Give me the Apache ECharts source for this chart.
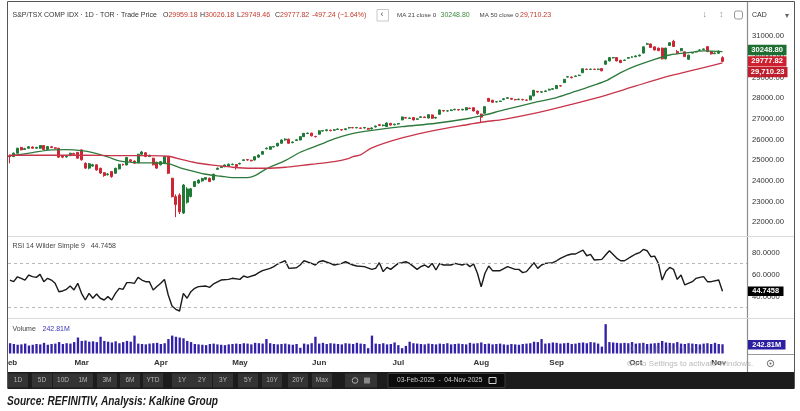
<!DOCTYPE html>
<html><head><meta charset="utf-8">
<script src="https://cdn.jsdelivr.net/npm/echarts@6/dist/echarts.min.js"></script>
<style>html,body{margin:0;padding:0;background:#fff}#c{width:800px;height:411px}</style>
</head><body><div id="c"></div>
<script>
// ---------------- DATA ----------------
const monthNames = ['Feb','Mar','Apr','May','Jun','Jul','Aug','Sep','Oct','Nov'];
const monthTradingDays = [19,21,21,21,21,22,20,21,22,2];

const opens = [25220,25180,25340,25620,25520,25580,25640,25580,25580,25710,25520,25650,25600,25580,25200,25160,25220,25330,25380,25500,24850,24620,24720,24780,24610,24400,24300,24450,24370,24580,24800,24770,25020,24960,24880,25290,25360,25180,25100,24900,24780,24860,25170,24130,23240,23320,22450,22970,23250,23730,23900,24000,24080,24130,24050,24560,24650,24690,24700,24790,24790,24820,24990,25030,25000,25010,25150,25290,25550,25530,25640,25690,25820,25980,26020,25850,25950,25980,26140,26290,26310,26150,26260,26410,26430,26450,26450,26490,26480,26480,26560,26580,26570,26560,26560,26540,26520,26610,26720,26670,26630,26780,26710,26750,26950,27060,27020,27060,26980,27070,27090,27040,27190,27040,27220,27400,27380,27400,27440,27450,27430,27430,27520,27540,27380,27230,27270,27990,27900,27820,27840,27930,27990,27990,27940,27930,27940,27910,27920,28110,28330,28290,28320,28390,28430,28460,28600,28750,29020,29020,29050,29090,29230,29400,29390,29400,29390,29430,29640,29800,29950,29960,29830,29820,29930,29970,30000,30040,30180,30600,30620,30480,30420,30420,29900,30550,30750,30250,30290,30240,29880,30180,30230,30310,30350,30490,30250,30150,30170,29959.18];
const closes = [25170,25340,25580,25500,25560,25650,25580,25620,25710,25520,25660,25610,25580,25150,25150,25190,25340,25290,25100,25020,24620,24830,24780,24530,24380,24260,24330,24210,24610,24800,24770,25130,24950,24860,25290,25400,25180,25240,24780,24620,24930,25180,24370,23240,22860,22510,23800,23610,23620,23970,24040,24120,24160,23970,24320,24610,24690,24770,24810,24810,24700,24850,25020,25010,24970,25170,25250,25420,25580,25650,25660,25820,25980,26020,25820,25880,25990,26140,26300,26310,26180,26140,26420,26430,26470,26430,26470,26510,26460,26520,26580,26570,26580,26540,26580,26500,26560,26650,26680,26700,26800,26700,26740,26770,27090,27040,27040,26950,27000,27100,27060,27200,27030,27070,27430,27380,27390,27430,27460,27430,27460,27540,27500,27380,27260,27080,27590,27850,27800,27830,27860,27970,28020,27950,27920,27950,27920,27900,28110,28380,28300,28310,28350,28430,28460,28610,28590,28910,29040,28990,29070,29110,29420,29390,29400,29390,29400,29320,29800,29960,29960,29800,29720,29840,29960,30000,30040,30080,30480,30630,30450,30330,30300,29900,30420,30680,30500,30200,30400,30010,30080,30200,30250,30330,30380,30250,30140,30180,30275.06,29777.82];
const lows = [24850,25150,25320,25480,25500,25560,25560,25560,25560,25500,25500,25590,25550,25120,25100,25120,25200,25260,25080,24980,24580,24560,24680,24500,24340,24200,24260,24150,24350,24560,24740,24750,24920,24830,24860,25260,25150,25150,24750,24580,24750,24840,24330,23200,22250,22400,22400,22900,23200,23700,23870,23960,24040,23940,24030,24540,24620,24660,24680,24760,24550,24800,24960,24980,24940,24990,25120,25270,25530,25510,25620,25670,25800,25950,25800,25820,25930,25960,26120,26270,26150,26100,26240,26390,26400,26400,26420,26460,26430,26450,26530,26540,26540,26510,26530,26470,26490,26580,26650,26640,26610,26680,26690,26720,26930,27010,27000,26920,26960,27050,27040,27020,27000,27010,27200,27350,27350,27380,27420,27400,27410,27410,27470,27360,27200,26850,27250,27820,27780,27790,27820,27900,27960,27920,27890,27900,27890,27870,27900,28090,28270,28260,28300,28370,28410,28440,28560,28730,29000,28960,29030,29070,29210,29360,29360,29360,29360,29300,29620,29780,29920,29780,29690,29800,29910,29950,29980,30020,30160,30580,30420,30300,30270,29870,29880,30530,30480,30120,30270,29990,29860,30160,30210,30290,30330,30230,30110,30130,30140,29749.46];
const highs = [25280,25380,25600,25650,25600,25680,25670,25650,25730,25730,25680,25680,25630,25600,25250,25230,25360,25360,25400,25530,24900,24870,24830,24800,24640,24420,24380,24470,24640,24830,24830,25150,25060,24990,25310,25450,25400,25270,25120,24930,24960,25200,25190,24150,23350,23400,23850,23700,23660,24000,24080,24150,24190,24160,24350,24650,24720,24800,24840,24840,24820,24880,25050,25060,25020,25200,25280,25440,25620,25680,25690,25840,26000,26060,26040,25910,26020,26160,26320,26340,26330,26180,26450,26460,26500,26480,26500,26540,26510,26550,26610,26610,26610,26580,26610,26560,26590,26680,26740,26730,26830,26810,26770,26800,27110,27080,27070,27080,27030,27130,27110,27220,27210,27100,27450,27420,27420,27460,27490,27470,27490,27560,27540,27560,27400,27250,27610,28010,27920,27860,27880,28000,28050,28010,27960,27980,27970,27940,28130,28400,28340,28340,28380,28460,28490,28630,28630,28930,29070,29050,29100,29140,29440,29430,29430,29420,29430,29450,29820,29980,29990,29980,29850,29870,29990,30030,30070,30110,30500,30680,30640,30500,30440,30440,30440,30700,30820,30330,30420,30260,30100,30230,30280,30360,30400,30510,30270,30210,30300,30026.18];

// volume, millions of shares
const volumesM = [270,250,230,240,260,210,230,250,240,280,230,250,260,300,250,270,260,300,420,
 330,340,310,320,300,440,330,310,290,320,270,300,330,310,470,
 260,250,240,260,270,280,250,270,
 380,470,440,420,400,330,300,
 250,240,230,220,250,260,240,230,220,240,250,260,
 250,270,260,240,280,270,260,380,270,
 250,240,250,260,240,230,250,150,260,240,270,440,
 260,280,250,270,260,250,240,270,260,250,280,260,250,
 140,470,260,250,270,240,250,290,
 220,140,200,310,
 270,260,250,240,260,250,240,260,250,270,240,250,260,250,240,280,260,270,290,250,260,240,250,260,240,230,250,240,230,250,260,270,
 310,300,380,
 260,270,290,280,260,270,280,250,260,280,290,270,300,290,260,180,
 770,
 300,290,280,270,280,270,300,
 260,270,280,250,260,270,280,330,290,280,270,300,260,250,270,260,250,240,260,270,250,280,
 250,242.81];

// moving averages: [trading-day index, value]
const ma21Points = [[0,25208],[6,25369],[11,25498],[15,25514],[19,25465],[22,25369],[26,25159],[29,24966],[33,24886],[38,24870],[42,24837],[45,24644],[49,24451],[52,24322],[56,24226],[59,24161],[63,24161],[65,24258],[68,24580],[73,24982],[77,25385],[82,25739],[86,26029],[90,26254],[96,26440],[104,26620],[113,26787],[122,27030],[126,27190],[131,27430],[140,27830],[145,28027],[149,28268],[153,28510],[158,28832],[162,29234],[166,29556],[171,29878],[175,30087],[180,30200],[184,30281],[189,30248.8]];
const ma50Points = [[0,25240],[11,25240],[20,25240],[28,25224],[37,25224],[42,25192],[46,25015],[50,24854],[55,24741],[59,24660],[64,24612],[68,24612],[73,24660],[77,24741],[81,24822],[86,24934],[90,25095],[91,25175],[93,25256],[96,25600],[104,26080],[113,26460],[122,26740],[126,26860],[131,26980],[140,27300],[149,27705],[158,28140],[166,28590],[175,29073],[184,29476],[189,29710.23]];

// RSI 14: [trading-day index, value]
const rsiPoints = [[0,55],[1,53.5],[2,58],[3,56.6],[4,55],[5,59.6],[6,58.1],[7,57.5],[8,60.2],[9,53.5],[10,56.6],[11,55],[12,52],[13,44.3],[14,45],[15,46.5],[16,49.5],[17,45.9],[18,52],[19,42.8],[20,36.7],[21,42.8],[22,38.3],[23,42.2],[24,38.3],[25,36.7],[26,39.8],[27,36.7],[28,42.8],[29,47.4],[30,46.5],[31,52.6],[32,52.6],[33,52],[34,57.5],[35,55],[36,53.5],[37,53.5],[38,45.9],[39,49],[40,52],[41,55.6],[42,41.3],[43,31.2],[44,28.2],[45,26.6],[46,42.8],[47,38.3],[48,44.3],[49,47.4],[50,49],[52,49.5],[53,48.3],[54,51.4],[56,55],[58,55.6],[59,56.6],[61,55.6],[62,58.7],[63,57.5],[65,59.6],[66,61.8],[67,63.6],[69,65.7],[70,67.3],[71,69.7],[72,71.2],[73,72.7],[74,65.7],[76,66.3],[77,68.8],[78,72.7],[80,70.3],[81,68.8],[82,71.8],[83,72.7],[85,70.3],[86,68.8],[88,70.3],[89,71.8],[91,68.8],[92,67.9],[94,67.3],[96,64.8],[97,65.7],[98,70.9],[99,62.7],[100,66.6],[101,64.8],[103,70.3],[104,70.9],[105,71.8],[106,70.3],[108,64.8],[109,67.3],[110,68.8],[111,66.6],[112,70.3],[113,64.2],[114,70.3],[115,68.8],[117,68.8],[118,70.3],[120,68.8],[121,70.3],[122,67.3],[123,69.7],[124,61.2],[125,48.9],[126,61.2],[127,67.9],[128,63.6],[130,63.6],[132,67.3],[134,64.8],[135,64.8],[136,61.8],[137,62.7],[139,70.9],[140,65.7],[141,68.8],[142,70.3],[144,70.9],[145,72.7],[146,74.9],[148,78],[149,78.9],[150,78.9],[152,82.5],[153,77.3],[154,78.5],[155,73.4],[157,74],[158,78],[159,81.9],[161,74.9],[162,72.7],[163,72.7],[165,77],[166,78.9],[167,80.1],[168,83.1],[169,81.9],[170,76.4],[171,77],[172,70.3],[173,55],[174,63],[175,66.6],[176,64.8],[177,55.6],[178,59.6],[179,50.5],[181,53.5],[182,56.6],[183,57.5],[184,58.1],[185,53.5],[186,53.5],[188,55],[189,44.7458]];

const priceTicks = [22000,23000,24000,25000,26000,27000,28000,29000,30000,31000];
const rsiTicks = [40,60,80];
const rsiBands = [70,30];
const rangeButtons = ['1D','5D','10D','1M','3M','6M','YTD','1Y','2Y','3Y','5Y','10Y','20Y','Max'];

// ---------------- CHART ----------------
const FF = '"Liberation Sans", Arial, sans-serif';
const UP = '#1f7a36', DOWN = '#cc2634';
const PAD = 6;
const cats = []; const labelOf = {};
let k = 0;
monthNames.forEach((m, mi) => {
  for (let d = 0; d < monthTradingDays[mi]; d++) { const key = 'd' + k; cats.push(key); if (d === 0) labelOf[key] = m; k++; }
});
for (let p = 0; p < PAD; p++) cats.push('pad' + p);
const candleData = opens.map((o, i) => [o, closes[i], lows[i], highs[i]]);

const G = [];
const T = (text, x, y, o = {}, el = {}) => G.push(Object.assign({ type: 'text', x, y, z: 120, style: Object.assign({ text, fill: '#333', fontSize: 7, fontFamily: FF, verticalAlign: 'middle', align: 'left' }, o) }, el));
const R = (x, y, w, h, fill, stroke, z = 100, r = 0) => G.push({ type: 'rect', z, shape: { x, y, width: w, height: h, r }, style: { fill: fill || 'none', stroke: stroke || null, lineWidth: 1 } });
const L = (x1, y1, x2, y2, stroke, lw = 1, z = 110) => G.push({ type: 'line', z, shape: { x1, y1, x2, y2 }, style: { stroke, lineWidth: lw } });

const lens = [opens.length, closes.length, lows.length, highs.length, volumesM.length, k];
if (new Set(lens).size !== 1) T('LEN ' + lens.join(','), 250, 150, { fill: 'red', fontSize: 20 });

// header
T('S&P/TSX COMP IDX · 1D · TOR · Trade Price', 12.5, 15.5, { fill: '#333' });
const ohlcHead = [['O', '29959.18', 163], ['H', '30026.18', 200], ['L', '29749.46', 237], ['C', '29777.82', 275]];
ohlcHead.forEach(h => T('{k|' + h[0] + '}{v|' + h[1] + '}', h[2], 15.5, {}, { style: { text: '{k|' + h[0] + '}{v|' + h[1] + '}', x: 0, y: 0, verticalAlign: 'middle', rich: { k: { fill: '#333', fontSize: 7, fontFamily: FF }, v: { fill: '#c0392b', fontSize: 7, fontFamily: FF } } } }));
T('-497.24 (\u22121.64%)', 312, 15.5, { fill: '#c0392b' });
R(377, 9.5, 11.5, 11.5, '#fff', '#c8c8c8', 105);
T('\u2039', 380.5, 15, { fill: '#555', fontSize: 9 });
T('MA 21 close 0', 397, 15.5, { fill: '#444', fontSize: 6.2 });
T('30248.80', 440.5, 15.5, { fill: '#3d8b40' });
T('MA 50 close 0', 479.5, 15.5, { fill: '#444', fontSize: 6.2 });
T('29,710.23', 520, 15.5, { fill: '#c0392b' });
T('\u2193', 702.5, 15, { fill: '#888', fontSize: 9 });
T('\u2195', 719, 15, { fill: '#999', fontSize: 9 });
R(734.5, 11, 8, 8, null, '#999', 105, 2);
T('CAD', 752, 15.5, { fill: '#333', fontSize: 7 });
T('\u25BE', 785, 15.5, { fill: '#666', fontSize: 8 });

// frame + separators
L(7.5, 1.5, 794.5, 1.5, '#555');
L(7.5, 1.5, 7.5, 388, '#555');
L(794.5, 1.5, 794.5, 388, '#555');
L(747.5, 1.5, 747.5, 372, '#8c8c8c', 1.2);
L(8, 236.5, 794, 236.5, '#d9d9d9');
L(8, 318.5, 794, 318.5, '#d9d9d9');
L(748, 354.5, 794, 354.5, '#999');
R(0, 355, 7, 14, '#fff', null, 100);

// last-value boxes
R(748, 44.8, 38.5, 10.5, '#1d6e30', null, 115);
T('30248.80', 767.2, 50.2, { fill: '#fff', fontWeight: 'bold', fontSize: 7.6, align: 'center' });
R(748, 56.2, 38.5, 10.2, '#cf2030', null, 115);
T('29777.82', 767.2, 61.4, { fill: '#fff', fontWeight: 'bold', fontSize: 7.6, align: 'center' });
R(748, 67, 39.5, 10.2, '#bf1f2d', null, 115);
T('29,710.23', 767.7, 72.2, { fill: '#fff', fontWeight: 'bold', fontSize: 7.6, align: 'center' });
R(748, 286.5, 35.5, 9.5, '#000', null, 115);
T('44.7458', 765.7, 291.3, { fill: '#fff', fontWeight: 'bold', fontSize: 7.4, align: 'center' });
R(748, 340, 37.5, 9.5, '#2c1fa2', null, 115);
T('242.81M', 766.7, 344.8, { fill: '#fff', fontWeight: 'bold', fontSize: 7.4, align: 'center' });

// panel titles
T('RSI 14 Wilder Simple 9   44.7458', 12.5, 245.8, { fill: '#444' });
T('', 12.5, 329.2, {}, { style: { text: '{a|Volume}  {b|242.81M}', x: 0, y: 0, verticalAlign: 'middle', rich: { a: { fill: '#444', fontSize: 7, fontFamily: FF }, b: { fill: '#3a34b8', fontSize: 7, fontFamily: FF } } } });

// watermark + gear
T('Activate Windows', 628, 350, { fill: 'rgba(140,140,140,0.35)', fontSize: 10 });
T('Go to Settings to activate Windows.', 627, 364, { fill: '#b9b9b9', fontSize: 8 });
G.push({ type: 'circle', z: 120, shape: { cx: 770.5, cy: 363.5, r: 3.2 }, style: { fill: 'none', stroke: '#666', lineWidth: 1 } });
G.push({ type: 'circle', z: 120, shape: { cx: 770.5, cy: 363.5, r: 1 }, style: { fill: '#666' } });

// toolbar
R(7.5, 372, 787, 17, '#1c1c1c', null, 100);
const btnX = [18, 42, 63, 83, 107, 130, 153, 182, 202, 223, 248, 272, 298, 322];
rangeButtons.forEach((b, i) => { R(btnX[i] - 10, 373.5, 20, 14, '#343434', null, 105); T(b, btnX[i], 380.5, { fill: '#b5b5b5', fontSize: 6.5, align: 'center' }); });
R(345, 373.5, 32, 14, '#343434', null, 105);
G.push({ type: 'circle', z: 120, shape: { cx: 355, cy: 380.5, r: 2.8 }, style: { fill: 'none', stroke: '#aaa', lineWidth: 1 } });
R(364, 377.5, 6, 6, '#888', null, 120);
R(388, 373.5, 117, 14, '#0b0b0b', '#3a3a3a', 105);
T('03-Feb-2025  -  04-Nov-2025', 397, 380.5, { fill: '#cfcfcf', fontSize: 6.6 });
R(489, 377.5, 7, 6, null, '#cfcfcf', 120);

// source line: 13px bold italic, squeezed horizontally to the reference width
const srcText = 'Source: REFINITIV, Analysis: Kalkine Group';
const srcFont = '"Liberation Sans", Arial, sans-serif';
const mctx = document.createElement('canvas').getContext('2d');
mctx.font = 'italic bold 13px ' + srcFont;
const srcScale = 211 / mctx.measureText(srcText).width;
T(srcText, 7, 401, { fill: '#1a1a1a', fontSize: 13, fontWeight: 'bold', fontStyle: 'italic', fontFamily: srcFont }, { scaleX: srcScale });

const chart = echarts.init(document.getElementById('c'));
const xCommon = { type: 'category', data: cats, boundaryGap: true, axisLine: { show: false }, axisTick: { show: false }, splitLine: { show: false } };
chart.setOption({
  animation: false,
  backgroundColor: '#fff',
  grid: [
    { left: 8, width: 739, top: 15.41, height: 227.58 },
    { left: 8, width: 739, top: 231, height: 109 },
    { left: 8, width: 739, top: 320, height: 33.5 }
  ],
  xAxis: [
    Object.assign({ gridIndex: 0, axisLabel: { show: false } }, xCommon),
    Object.assign({ gridIndex: 1, axisLabel: { show: false } }, xCommon),
    Object.assign({ gridIndex: 2, axisLabel: { show: true, interval: (i, v) => labelOf[v] !== undefined, formatter: v => labelOf[v] || '', color: '#333', fontSize: 8, fontWeight: 'bold', fontFamily: FF, margin: 5 } }, xCommon)
  ],
  yAxis: [
    { gridIndex: 0, type: 'value', position: 'right', min: 21000, max: 32000, interval: 1000, splitLine: { show: false }, axisLine: { show: false }, axisTick: { show: false },
      axisLabel: { formatter: v => priceTicks.includes(v) ? v.toFixed(2) : '', color: '#333', fontSize: 7.7, fontFamily: FF, margin: 5 } },
    { gridIndex: 1, type: 'value', position: 'right', min: 0, max: 100, interval: 20, splitLine: { show: false }, axisLine: { show: false }, axisTick: { show: false },
      axisLabel: { formatter: v => rsiTicks.includes(v) ? v.toFixed(4) : '', color: '#333', fontSize: 7.7, fontFamily: FF, margin: 5 } },
    { gridIndex: 2, type: 'value', position: 'right', min: 0, max: 880, splitLine: { show: false }, axisLine: { show: false }, axisTick: { show: false }, axisLabel: { show: false } }
  ],
  series: [
    { type: 'candlestick', xAxisIndex: 0, yAxisIndex: 0, data: candleData, barWidth: '66%',
      itemStyle: { color: UP, color0: DOWN, borderColor: UP, borderColor0: DOWN, borderWidth: 1 } },
    { type: 'line', xAxisIndex: 0, yAxisIndex: 0, data: ma21Points, showSymbol: false, smooth: 0.3, lineStyle: { color: '#2e7a3c', width: 1.3 }, z: 3 },
    { type: 'line', xAxisIndex: 0, yAxisIndex: 0, data: ma50Points, showSymbol: false, smooth: 0.3, lineStyle: { color: '#c8344a', width: 1.3 }, z: 3 },
    { type: 'line', xAxisIndex: 1, yAxisIndex: 1, data: rsiPoints, showSymbol: false, lineStyle: { color: '#1a1a1a', width: 1.4 },
      markLine: { silent: true, symbol: ['none', 'none'], label: { show: false }, lineStyle: { type: [3, 3], color: '#b8b8b8', width: 1 }, data: rsiBands.map(v => ({ yAxis: v })) } },
    { type: 'bar', xAxisIndex: 2, yAxisIndex: 2, data: volumesM, barWidth: '62%', itemStyle: { color: '#3322a8' } }
  ],
  graphic: G
});
</script></body></html>
